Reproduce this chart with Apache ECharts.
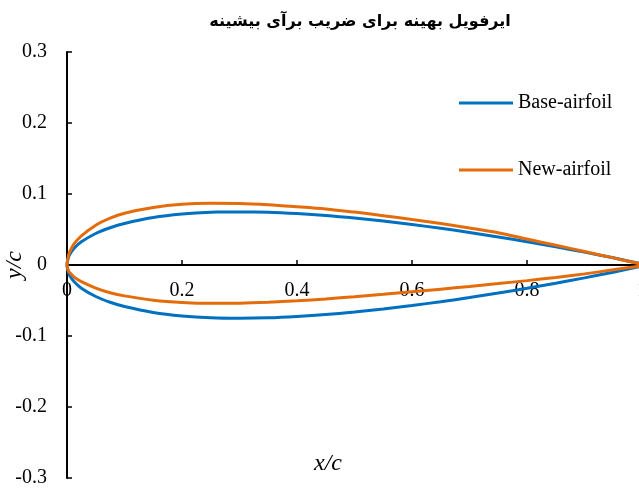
<!DOCTYPE html>
<html>
<head>
<meta charset="utf-8">
<script src="https://cdn.jsdelivr.net/npm/echarts@6/dist/echarts.min.js"></script>
<style>
  html, body { margin: 0; padding: 0; background: #fff; }
  #chart { width: 639px; height: 490px; }
</style>
</head>
<body>
<div id="chart"></div>
<script>
// Chordwise stations (x/c) shared by both sections
const xStations = [0, 0.0025, 0.005, 0.0125, 0.025, 0.05, 0.075, 0.1, 0.15, 0.2, 0.25, 0.3, 0.35,
  0.4, 0.45, 0.5, 0.55, 0.6, 0.65, 0.7, 0.75, 0.8, 0.85, 0.9, 0.95, 1.0];

// Base section ordinates (y/c)
const baseUpper = [0, 0.0109, 0.0153, 0.0237, 0.0327, 0.0444, 0.0525, 0.0585, 0.0668, 0.0717, 0.0743,
  0.0750, 0.0744, 0.0725, 0.0698, 0.0662, 0.0619, 0.0570, 0.0517, 0.0458, 0.0395, 0.0328, 0.0257,
  0.0181, 0.0101, 0.0016];
const baseLower = [0, -0.0109, -0.0153, -0.0237, -0.0327, -0.0444, -0.0525, -0.0585, -0.0668, -0.0717,
  -0.0743, -0.0750, -0.0744, -0.0725, -0.0698, -0.0662, -0.0619, -0.0570, -0.0517, -0.0458, -0.0395,
  -0.0328, -0.0257, -0.0181, -0.0101, -0.0016];

// Optimised section ordinates (y/c)
const newUpper = [0, 0.0135, 0.0190, 0.0300, 0.0410, 0.0560, 0.0660, 0.0730, 0.0810, 0.0855, 0.0868,
  0.0866, 0.0850, 0.0822, 0.0790, 0.0745, 0.0695, 0.0640, 0.0585, 0.0522, 0.0455, 0.0365, 0.0278,
  0.0190, 0.0100, 0.0010];
const newLower = [0, -0.0080, -0.0110, -0.0170, -0.0235, -0.0325, -0.0390, -0.0435, -0.0495, -0.0528,
  -0.0540, -0.0538, -0.0525, -0.0505, -0.0478, -0.0447, -0.0413, -0.0377, -0.0340, -0.0302, -0.0262,
  -0.0220, -0.0175, -0.0125, -0.0068, -0.0010];

const xTicks = [0, 0.2, 0.4, 0.6, 0.8, 1];
const yTicks = [-0.3, -0.2, -0.1, 0, 0.1, 0.2, 0.3];

const seriesNames = ['Base-airfoil', 'New-airfoil'];
const titleText = 'ایرفویل بهینه برای ضریب برآی بیشینه';

// Closed contour: trailing edge -> upper surface -> leading edge -> lower surface -> trailing edge
function contour(upper, lower) {
  const pts = [];
  for (let i = xStations.length - 1; i >= 0; i--) pts.push([xStations[i], upper[i]]);
  for (let i = 1; i < xStations.length; i++) pts.push([xStations[i], lower[i]]);
  return pts;
}

const serif = '"Liberation Serif", "Times New Roman", serif';

// Plot box in pixels; the horizontal axis is lifted from the bottom edge to the y = 0 level
const gridTop = 52, gridBottom = 12, chartHeight = 490;
const plotHeight = chartHeight - gridTop - gridBottom;
const zeroLift = plotHeight * (0 - yTicks[0]) / (yTicks[yTicks.length - 1] - yTicks[0]);

const chart = echarts.init(document.getElementById('chart'), null, { renderer: 'canvas' });
chart.setOption({
  backgroundColor: '#ffffff',
  animation: false,
  title: {
    text: titleText,
    left: 355,
    top: 9,
    textAlign: 'center',
    textStyle: { fontFamily: '"DejaVu Sans", sans-serif', fontWeight: 'bold', fontSize: 16, color: '#000' }
  },
  legend: {
    orient: 'vertical',
    left: 459,
    top: 93,
    padding: 0,
    itemGap: 47,
    itemWidth: 54,
    itemHeight: 3,
    icon: 'rect',
    data: seriesNames,
    textStyle: { fontFamily: serif, fontSize: 20, color: '#000' }
  },
  grid: { left: 67, right: -3, top: gridTop, bottom: gridBottom, containLabel: false, outerBoundsMode: 'none' },
  xAxis: {
    type: 'value',
    position: 'bottom',
    offset: -zeroLift,
    min: xTicks[0],
    max: xTicks[xTicks.length - 1],
    interval: 0.2,
    axisLine: { onZero: false, lineStyle: { color: '#000', width: 2 } },
    axisTick: { inside: true, length: 5, lineStyle: { color: '#000', width: 1.5 } },
    axisLabel: {
      margin: 16,
      hideOverlap: false,
      fontFamily: serif, fontSize: 20, color: '#000',
      formatter: v => (v === 0 ? '0' : (+v.toFixed(1)).toString())
    },
    splitLine: { show: false }
  },
  yAxis: {
    type: 'value',
    min: yTicks[0],
    max: yTicks[yTicks.length - 1],
    interval: 0.1,
    name: 'y/c',
    nameLocation: 'middle',
    nameGap: 40,
    nameRotate: 90,
    nameMoveOverlap: false,
    nameTextStyle: { fontFamily: serif, fontStyle: 'italic', fontSize: 24, color: '#000' },
    axisLine: { show: true, onZero: false, lineStyle: { color: '#000', width: 2 } },
    axisTick: { show: true, inside: true, length: 5, lineStyle: { color: '#000', width: 1.5 } },
    axisLabel: {
      margin: 20,
      fontFamily: serif, fontSize: 20, color: '#000',
      formatter: v => (Math.abs(v) < 1e-9 ? '0' : v.toFixed(1))
    },
    splitLine: { show: false }
  },
  graphic: [{
    type: 'text',
    left: 314,
    top: 452,
    style: { text: 'x/c', font: 'italic 24px ' + serif, fill: '#000' }
  }],
  series: [
    {
      name: seriesNames[0],
      type: 'line',
      data: contour(baseUpper, baseLower),
      smooth: 0.3,
      showSymbol: false,
      lineStyle: { color: '#0070C0', width: 3 },
      itemStyle: { color: '#0070C0' }
    },
    {
      name: seriesNames[1],
      type: 'line',
      data: contour(newUpper, newLower),
      smooth: 0.3,
      showSymbol: false,
      lineStyle: { color: '#E46C0A', width: 3 },
      itemStyle: { color: '#E46C0A' }
    }
  ]
});
</script>
</body>
</html>
